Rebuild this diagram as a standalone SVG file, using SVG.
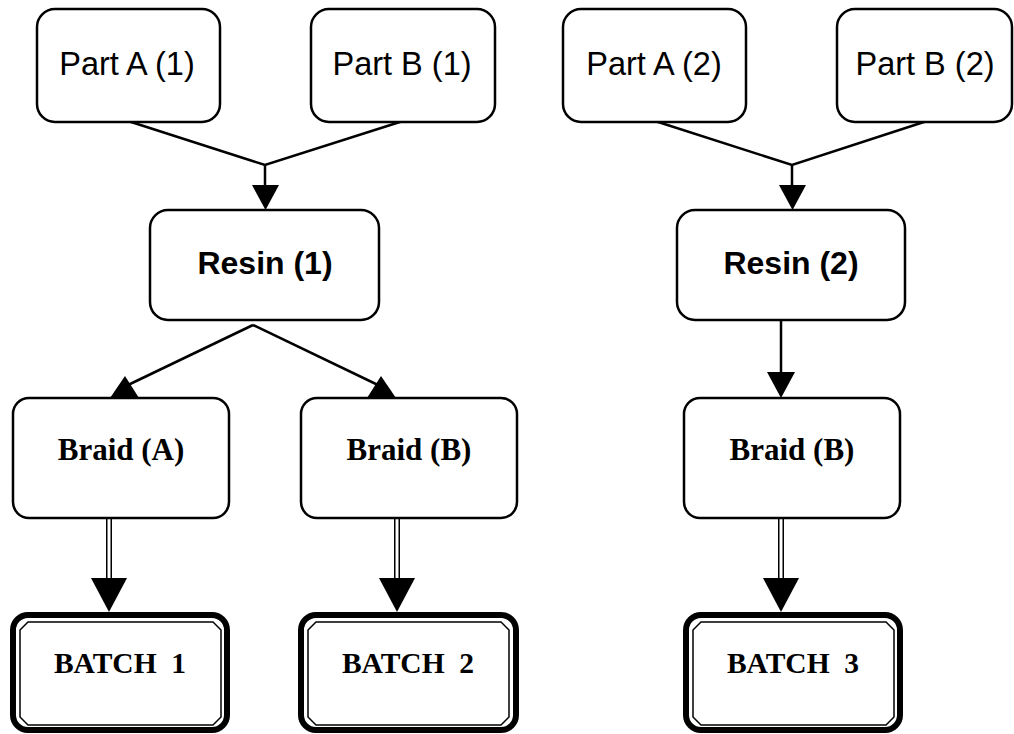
<svg xmlns="http://www.w3.org/2000/svg" width="1014" height="734" viewBox="0 0 1014 734">
<style>
.box{fill:#fff;stroke:#000;stroke-width:2.5}
.ln{fill:none;stroke:#000;stroke-width:2.5}
.ah{fill:#000;stroke:none}
.dbo{stroke:#000;stroke-width:6;fill:none}
.dbi{stroke:#fff;stroke-width:3;fill:none}
.bo{fill:#fff;stroke:#000;stroke-width:6}
.bi{fill:none;stroke:#000;stroke-width:1.5}
.sans{font-family:"Liberation Sans",Arial,sans-serif;font-size:32.5px;text-anchor:middle}
.sansb{font-family:"Liberation Sans",Arial,sans-serif;font-size:32px;font-weight:bold;text-anchor:middle}
.serb{font-family:"Liberation Serif","Times New Roman",serif;font-size:31px;font-weight:bold;text-anchor:middle}
.bat{font-family:"Liberation Serif","Times New Roman",serif;font-size:29.5px;font-weight:bold;text-anchor:middle;white-space:pre}
</style>
<rect width="1014" height="734" fill="#fff"/>
<g id="connectors">
<polyline class="ln" points="128,121 265,165 403,121"/>
<line class="ln" x1="265" y1="165" x2="265" y2="187"/>
<polygon class="ah" points="252,185 279,185 265.5,210"/>
<polyline class="ln" points="655,121 792,165 927,121"/>
<line class="ln" x1="792" y1="165" x2="792" y2="187"/>
<polygon class="ah" points="779,185 806,185 792.5,210"/>
<line class="ln" x1="253" y1="325" x2="128" y2="385"/>
<line class="ln" x1="253" y1="325" x2="378" y2="385"/>
<polygon class="ah" points="125,376 110,398 139,398"/>
<polygon class="ah" points="381,376 367,398 396,398"/>
<line class="ln" x1="781" y1="321" x2="781" y2="375"/>
<polygon class="ah" points="767,372 795,372 781,398"/>
<line class="dbo" x1="109" y1="518" x2="109" y2="580"/>
<line class="dbi" x1="109" y1="518" x2="109" y2="580"/>
<polygon class="ah" points="91,578 127,578 109,612"/>
<line class="dbo" x1="397" y1="518" x2="397" y2="580"/>
<line class="dbi" x1="397" y1="518" x2="397" y2="580"/>
<polygon class="ah" points="379,578 415,578 397,612"/>
<line class="dbo" x1="781" y1="518" x2="781" y2="580"/>
<line class="dbi" x1="781" y1="518" x2="781" y2="580"/>
<polygon class="ah" points="763,578 799,578 781,612"/>
</g>
<g id="partA1"><rect class="box" x="37" y="9" width="183" height="113" rx="18"/><text class="sans" x="127" y="75">Part A (1)</text></g>
<g id="partB1"><rect class="box" x="311" y="9" width="184" height="113" rx="18"/><text class="sans" x="402" y="75">Part B (1)</text></g>
<g id="partA2"><rect class="box" x="563" y="9" width="183" height="113" rx="18"/><text class="sans" x="654" y="75">Part A (2)</text></g>
<g id="partB2"><rect class="box" x="837" y="9" width="175" height="113" rx="18"/><text class="sans" x="925" y="75">Part B (2)</text></g>
<g id="resin1"><rect class="box" x="150" y="210" width="229" height="110" rx="18"/><text class="sansb" x="265" y="274">Resin (1)</text></g>
<g id="resin2"><rect class="box" x="677" y="210" width="228" height="110" rx="18"/><text class="sansb" x="791" y="274">Resin (2)</text></g>
<g id="braidA"><rect class="box" x="13" y="398" width="216" height="120" rx="16"/><text class="serb" x="121" y="460">Braid (A)</text></g>
<g id="braidB1"><rect class="box" x="301" y="398" width="216" height="120" rx="16"/><text class="serb" x="409" y="460">Braid (B)</text></g>
<g id="braidB2"><rect class="box" x="684" y="398" width="216" height="120" rx="16"/><text class="serb" x="792" y="460">Braid (B)</text></g>
<g id="batch1"><rect class="bo" x="13" y="615" width="214" height="115" rx="15"/><polygon class="bi" points="28,622 213,622 221,630 221,717 213,725 28,725 20,717 20,630"/><text class="bat" x="120" y="673">BATCH  1</text></g>
<g id="batch2"><rect class="bo" x="301" y="615" width="215" height="115" rx="15"/><polygon class="bi" points="316,622 501,622 509,630 509,717 501,725 316,725 308,717 308,630"/><text class="bat" x="408" y="673">BATCH  2</text></g>
<g id="batch3"><rect class="bo" x="686" y="615" width="214" height="115" rx="15"/><polygon class="bi" points="701,622 886,622 894,630 894,717 886,725 701,725 693,717 693,630"/><text class="bat" x="793" y="673">BATCH  3</text></g>
</svg>
